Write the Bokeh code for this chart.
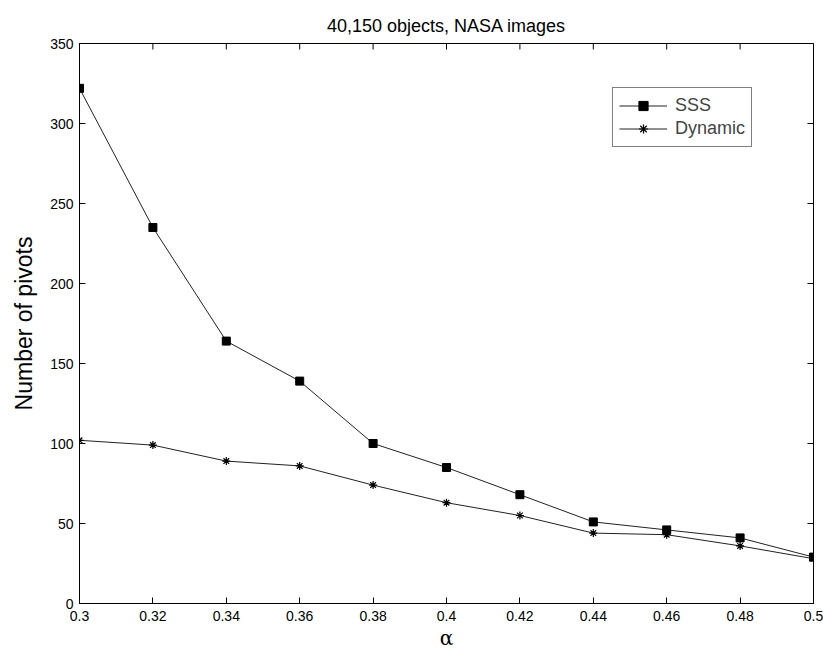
import math
from bokeh.plotting import figure
from bokeh.models import FixedTicker, Range1d, Legend, LegendItem
from bokeh.embed import file_html
from bokeh.resources import INLINE

# Pivot counts against the alpha parameter, 40,150 NASA images
alpha = [0.30, 0.32, 0.34, 0.36, 0.38, 0.40, 0.42, 0.44, 0.46, 0.48, 0.50]
sss = [322, 235, 164, 139, 100, 85, 68, 51, 46, 41, 29]
dynamic = [102, 99, 89, 86, 74, 63, 55, 44, 43, 36, 28]

x_ticks = [0.30, 0.32, 0.34, 0.36, 0.38, 0.40, 0.42, 0.44, 0.46, 0.48, 0.50]
x_tick_labels = ["0.3", "0.32", "0.34", "0.36", "0.38", "0.4", "0.42", "0.44", "0.46", "0.48", "0.5"]
y_ticks = [0, 50, 100, 150, 200, 250, 300, 350]

FONT = "'Liberation Sans', Arial, sans-serif"
X_MIN, X_MAX, Y_MIN, Y_MAX = 0.3, 0.5, 0, 350

p = figure(
    width=823, height=652,
    x_range=Range1d(X_MIN, X_MAX), y_range=Range1d(Y_MIN, Y_MAX),
    output_backend="svg", toolbar_location=None,
    min_border_left=79, min_border_right=10,
    min_border_top=43, min_border_bottom=49,
    x_axis_label="\u03b1", y_axis_label="Number of pivots",
    title="40,150 objects, NASA images",
)
p.background_fill_color = "white"
p.border_fill_color = "white"
p.outline_line_color = "black"
p.outline_line_width = 1
p.xgrid.visible = False
p.ygrid.visible = False

p.title.align = "center"
p.title.text_font = FONT
p.title.text_font_size = "18px"
p.title.text_font_style = "normal"
p.title.text_color = "black"
p.title.standoff = 15

# bottom / left axes with labels, ticks pointing inward
for ax in (p.xaxis[0], p.yaxis[0]):
    ax.major_tick_in = 6
    ax.major_tick_out = 0
    ax.minor_tick_line_color = None
    ax.axis_line_color = "black"
    ax.major_tick_line_color = "black"
    ax.major_label_text_font = FONT
    ax.major_label_text_font_size = "14px"
    ax.major_label_text_color = "black"
    ax.axis_label_text_color = "black"
    ax.axis_label_text_font_style = "normal"

p.xaxis[0].ticker = FixedTicker(ticks=x_ticks)
p.xaxis[0].major_label_overrides = {t: s for t, s in zip(x_ticks, x_tick_labels)}
p.xaxis[0].major_label_standoff = 7
p.xaxis[0].axis_label_standoff = 2
p.xaxis[0].axis_label_text_font = "'DejaVu Serif', serif"
p.xaxis[0].axis_label_text_font_size = "20px"

p.yaxis[0].ticker = FixedTicker(ticks=y_ticks)
p.yaxis[0].major_label_standoff = 6
p.yaxis[0].axis_label_standoff = 10
p.yaxis[0].axis_label_text_font = FONT
p.yaxis[0].axis_label_text_font_size = "23px"

# mirrored inward ticks on the top and right edges (half of each dash is clipped by the frame)
p.scatter(x_ticks, [Y_MAX] * len(x_ticks), marker="dash", size=12, angle=math.pi / 2,
          line_color="black", line_width=1)
p.scatter([X_MAX] * len(y_ticks), y_ticks, marker="dash", size=12,
          line_color="black", line_width=1)

line_color = "#222222"
l1 = p.line(alpha, sss, line_color=line_color, line_width=1)
m1 = p.scatter(alpha, sss, marker="square", size=8, fill_color="black", line_color="black")
l2 = p.line(alpha, dynamic, line_color=line_color, line_width=1)
m2 = p.scatter(alpha, dynamic, marker="asterisk", size=8, line_color="black", line_width=1.2)

legend = Legend(
    items=[LegendItem(label="SSS", renderers=[l1, m1]),
           LegendItem(label="Dynamic", renderers=[l2, m2])],
    location=(533, 456),
    border_line_color="black", border_line_width=1,
    background_fill_color="white", background_fill_alpha=1,
    label_text_font=FONT, label_text_font_size="18px",
    glyph_width=48, glyph_height=23, label_height=23,
    label_standoff=8, padding=6, spacing=0, margin=0,
)
p.add_layout(legend, "center")

open("out.html", "w").write(file_html(p, INLINE))
